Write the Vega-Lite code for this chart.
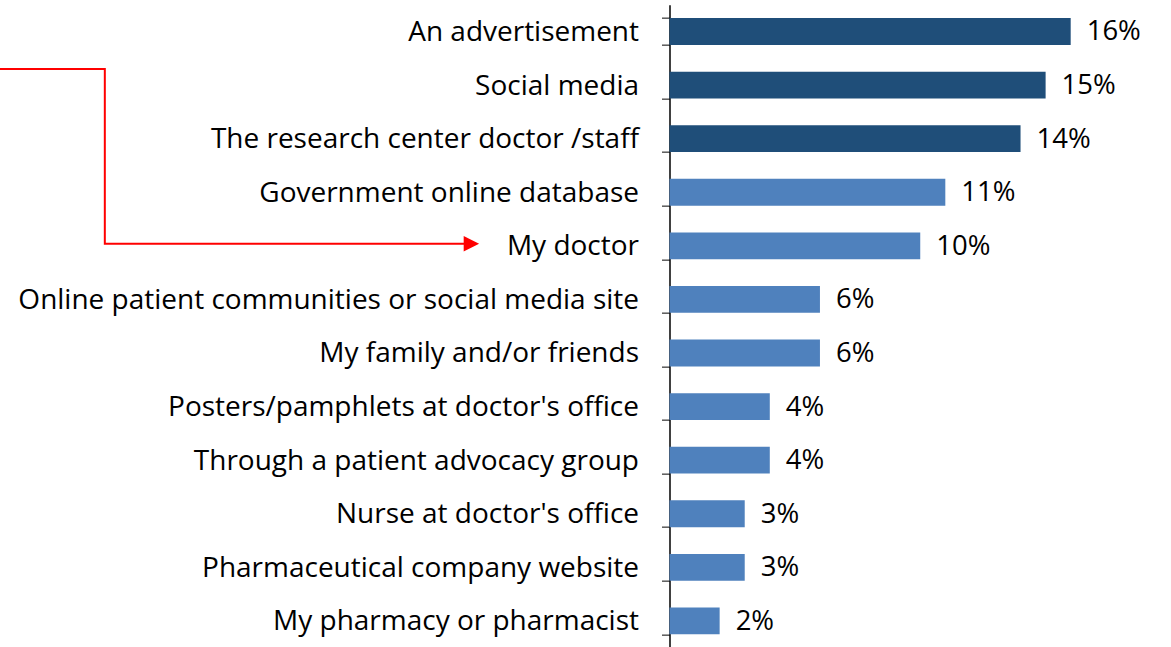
{
  "$schema": "https://vega.github.io/schema/vega-lite/v6.json",
  "width": 501.5,
  "height": 643,
  "autosize": {"type": "none"},
  "padding": {"left": 669.5, "top": 4.7, "right": 0, "bottom": 0},
  "background": "white",
  "config": {"view": {"stroke": null}, "font": "Open Sans"},
  "datasets": {
    "bars": [
      {"source": "An advertisement\u00a0", "share": 0.16, "group": "top"},
      {"source": "Social media\u00a0", "share": 0.15, "group": "top"},
      {"source": "The research center doctor /staff", "share": 0.14, "group": "top"},
      {"source": "Government online database", "share": 0.11, "group": "other"},
      {"source": "My doctor", "share": 0.10, "group": "other"},
      {"source": "Online patient communities or social media site", "share": 0.06, "group": "other"},
      {"source": "My family and/or friends", "share": 0.06, "group": "other"},
      {"source": "Posters/pamphlets at doctor's office", "share": 0.04, "group": "other"},
      {"source": "Through a patient advocacy group", "share": 0.04, "group": "other"},
      {"source": "Nurse at doctor's office", "share": 0.03, "group": "other"},
      {"source": "Pharmaceutical company website", "share": 0.03, "group": "other"},
      {"source": "My pharmacy or pharmacist", "share": 0.02, "group": "other"}
    ],
    "arrow": [
      {"ax": -0.27, "ay": 1.2, "o": 1},
      {"ax": -0.2252, "ay": 1.2, "o": 2},
      {"ax": -0.2252, "ay": 4.46, "o": 3},
      {"ax": -0.079, "ay": 4.46, "o": 4}
    ],
    "head": [
      {"ax": -0.079, "ay": 4.46}
    ]
  },
  "layer": [
    {
      "data": {"name": "bars"},
      "mark": {"type": "bar"},
      "encoding": {
        "y": {
          "field": "source", "type": "nominal", "sort": null,
          "scale": {"paddingInner": 0.5, "paddingOuter": 0.25},
          "axis": {
            "title": null,
            "labelFont": "Open Sans",
            "labelFontSize": 28,
            "labelColor": "#000000",
            "labelPadding": 23,
            "labelOffset": 1,
            "labelLimit": 0,
            "ticks": true,
            "tickBand": "extent",
            "tickSize": 8,
            "tickColor": "#595959",
            "tickWidth": 1.5,
            "domainColor": "#000000",
            "domainWidth": 1.5,
            "grid": false
          }
        },
        "x": {"field": "share", "type": "quantitative", "scale": {"domain": [0, 0.2], "nice": false}, "axis": null},
        "color": {
          "field": "group", "type": "nominal",
          "scale": {"domain": ["top", "other"], "range": ["#1F4E79", "#4F81BD"]},
          "legend": null
        }
      }
    },
    {
      "data": {"name": "bars"},
      "mark": {"type": "text", "align": "left", "baseline": "middle", "dx": 16, "dy": 1, "fontSize": 27.5, "font": "Open Sans", "color": "#000000"},
      "encoding": {
        "y": {"field": "source", "type": "nominal", "sort": null, "scale": {"paddingInner": 0.5, "paddingOuter": 0.25}},
        "x": {"field": "share", "type": "quantitative", "scale": {"domain": [0, 0.2], "nice": false}, "axis": null},
        "text": {"field": "share", "type": "quantitative", "format": ".0%"}
      }
    },
    {
      "data": {"name": "arrow"},
      "mark": {"type": "line", "color": "#FF0000", "strokeWidth": 2, "clip": false},
      "encoding": {
        "x": {"field": "ax", "type": "quantitative", "scale": {"domain": [0, 0.2], "nice": false}, "axis": null},
        "y": {"field": "ay", "type": "quantitative", "scale": {"domain": [0, 12], "reverse": true, "nice": false, "zero": false}, "axis": null},
        "order": {"field": "o", "type": "quantitative"}
      }
    },
    {
      "data": {"name": "head"},
      "mark": {"type": "point", "shape": "M -1,-1 L 1,0 L -1,1 Z", "filled": true, "color": "#FF0000", "opacity": 1, "size": 240, "clip": false},
      "encoding": {
        "x": {"field": "ax", "type": "quantitative", "scale": {"domain": [0, 0.2], "nice": false}, "axis": null},
        "y": {"field": "ay", "type": "quantitative", "scale": {"domain": [0, 12], "reverse": true, "nice": false, "zero": false}, "axis": null}
      }
    }
  ],
  "resolve": {"scale": {"y": "independent"}}
}
